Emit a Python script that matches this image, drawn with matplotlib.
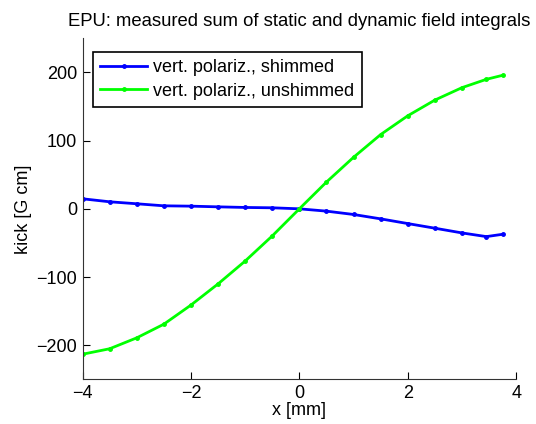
import matplotlib
matplotlib.use("Agg")
import matplotlib.pyplot as plt

# measured positions [mm]
x_pos = [-4, -3.5, -3, -2.5, -2, -1.5, -1, -0.5, 0, 0.5, 1, 1.5, 2, 2.5, 3, 3.45, 3.75]

# kick [G cm]
kick_shimmed = [14.7, 10.3, 7.4, 4.4, 3.9, 2.9, 2.0, 1.5, 0.0, -3.4, -8.3, -14.7,
                -21.6, -28.4, -35.3, -40.7, -37.3]
kick_unshimmed = [-213, -205, -189, -169, -141, -110, -76.5, -39.7, 0.0, 39.2, 75.5,
                  108.8, 136.3, 159.3, 177.5, 189.7, 195.6]

plt.rcParams["font.family"] = ["Liberation Sans", "DejaVu Sans"]

fig = plt.figure(figsize=(5.36, 4.24), dpi=100)
ax = fig.add_axes([0.154, 0.105, 0.809, 0.805])

ax.plot(x_pos, kick_shimmed, color="#0000ff", lw=2, marker=".", ms=5,
        label="vert. polariz., shimmed")
ax.plot(x_pos, kick_unshimmed, color="#00ff00", lw=2, marker=".", ms=5,
        label="vert. polariz., unshimmed")

ax.set_xlim(-4, 4)
ax.set_ylim(-250, 250)
ax.set_xticks([-4, -2, 0, 2, 4])
ax.set_yticks([-200, -100, 0, 100, 200])
ax.set_xticklabels(["\u22124", "\u22122", "0", "2", "4"])
ax.set_yticklabels(["\u2212200", "\u2212100", "0", "100", "200"])

ax.spines["top"].set_visible(False)
ax.spines["right"].set_visible(False)
for s in ["left", "bottom"]:
    ax.spines[s].set_color("#333333")
ax.tick_params(direction="in", labelsize=13, length=5, pad=4)

ax.set_xlabel("x [mm]", fontsize=13, labelpad=0)
ax.set_ylabel("kick [G cm]", fontsize=13, labelpad=3)
ax.set_title("EPU: measured sum of static and dynamic field integrals",
             fontsize=13.3, pad=9)

leg = ax.legend(loc="upper left", bbox_to_anchor=(0.024, 0.959), fontsize=13,
                fancybox=False, framealpha=1, edgecolor="black",
                borderaxespad=0, handlelength=2.6, borderpad=0.4,
                labelspacing=0.35, handletextpad=0.35)
leg.get_frame().set_linewidth(1.2)

fig.savefig("out.png", dpi=100)
